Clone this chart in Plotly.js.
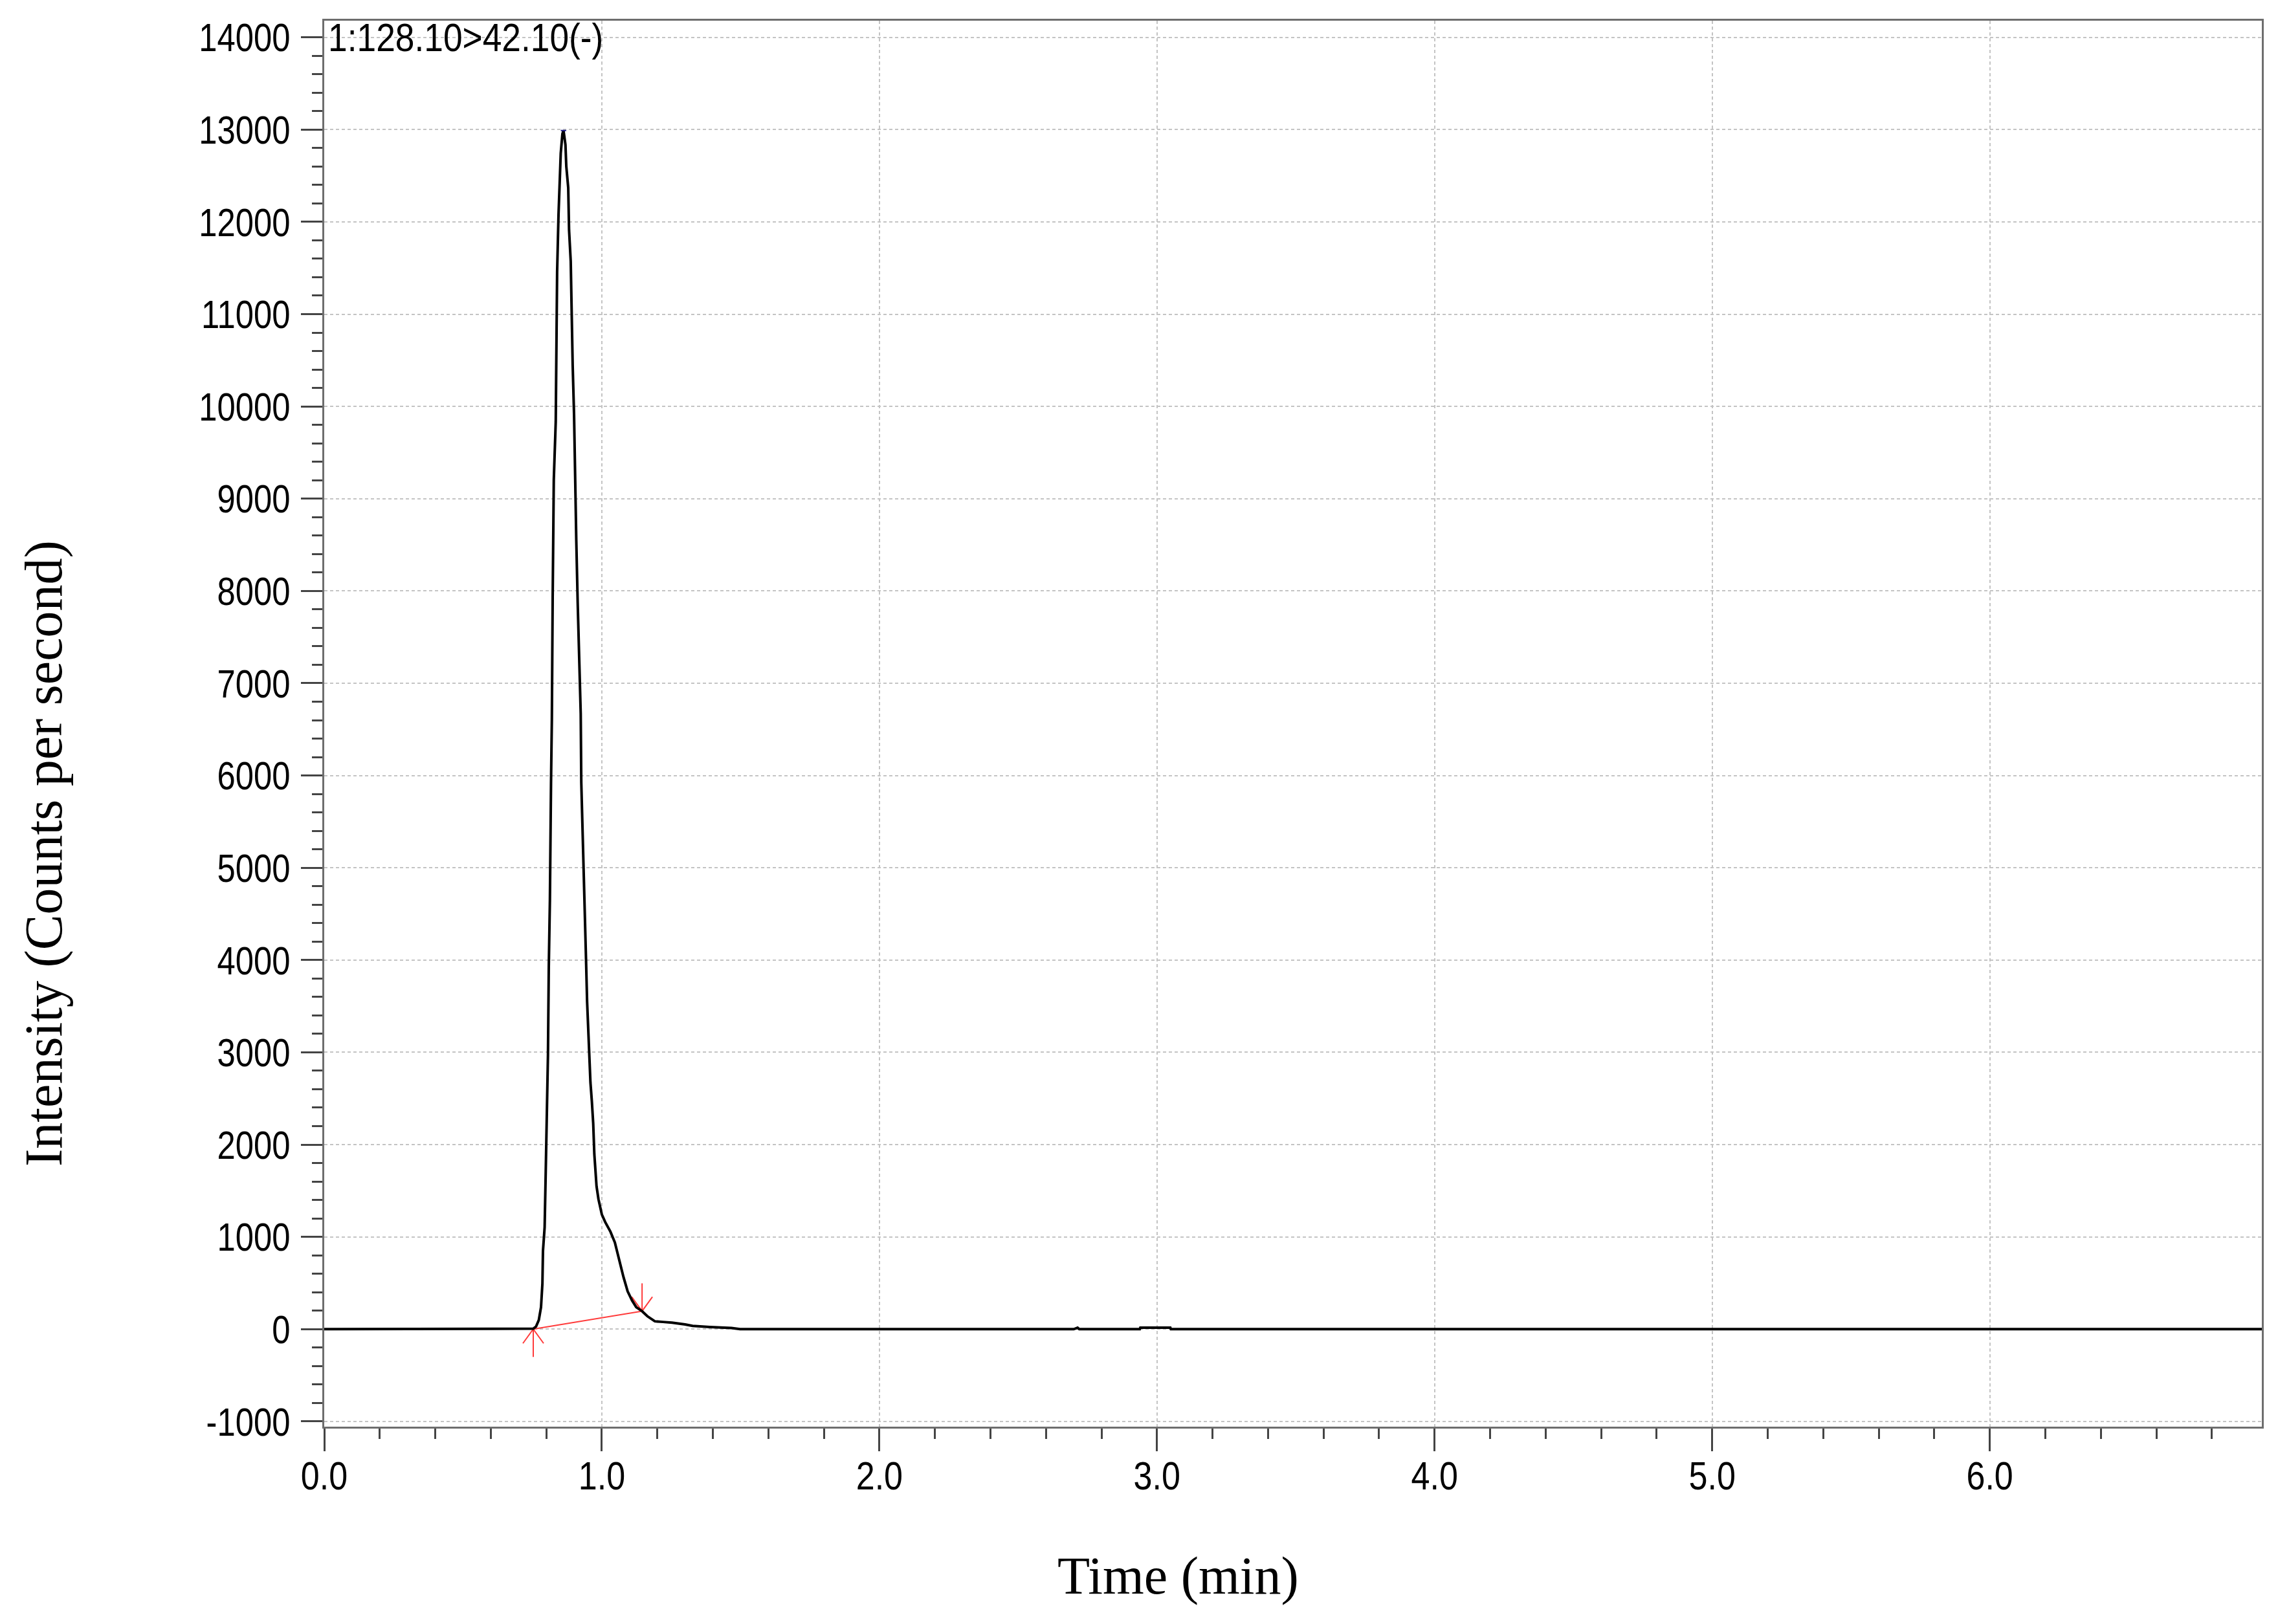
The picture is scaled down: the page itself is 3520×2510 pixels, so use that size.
<!DOCTYPE html>
<html>
<head>
<meta charset="utf-8">
<script src="https://cdn.plot.ly/plotly-3.0.1.min.js"></script>
<style>
  html, body { margin: 0; padding: 0; background: #ffffff; }
  #chart { width: 3520px; height: 2510px; }
</style>
</head>
<body>
<div id="chart"></div>
<script>
// ---- data ----
const timeMin = [
  0.000, 0.500, 0.740, 0.753, 0.763, 0.773, 0.781, 0.786, 0.788, 0.794,
  0.798, 0.802, 0.806, 0.809, 0.813, 0.817, 0.820, 0.823, 0.827, 0.834,
  0.837, 0.839, 0.844, 0.850, 0.852, 0.858, 0.862,
  0.869, 0.872, 0.879, 0.882, 0.888, 0.891, 0.895, 0.900, 0.904, 0.908,
  0.913, 0.919, 0.924, 0.926, 0.930, 0.934, 0.939, 0.943, 0.947, 0.951,
  0.955, 0.959, 0.964, 0.969, 0.973, 0.981, 0.988, 1.000, 1.012, 1.031,
  1.047, 1.062, 1.078, 1.093, 1.109, 1.124, 1.145, 1.164, 1.191, 1.220,
  1.253, 1.300, 1.327, 1.389, 1.467, 1.498, 2.700, 2.714, 2.720, 2.938,
  2.940, 3.048, 3.050, 6.980
];
const intensityCps = [
  0, 0, 0, 5, 28, 98, 238, 495, 846, 1103,
  1710, 2300, 2973, 3934, 4651, 5914, 6600, 7942, 9205, 9835,
  10872, 11457, 12077, 12520, 12743, 12953, 12990,
  12836, 12602, 12368, 11912, 11573, 11000, 10450, 9909, 9128, 8550,
  7880, 7170, 6670, 5927, 5524, 4892, 4450, 4020, 3548, 3266,
  2930, 2675, 2473, 2230, 1897, 1547, 1407, 1243, 1161, 1056,
  939, 752, 565, 410, 310, 238, 195, 140, 85, 78,
  70, 51, 35, 23, 12, 0, 0, 15, 0, 0,
  16, 16, 0, 0
];
// integration baseline (start and end of the integrated peak)
const peakStart = [0.753, 0];
const peakEnd = [1.145, 195];
const peakApex = [0.862, 12990];

const transitionLabel = '1:128.10>42.10(-)';
const xTitle = 'Time (min)';
const yTitle = 'Intensity (Counts per second)';

const xTickVals = [0, 1, 2, 3, 4, 5, 6];
const xTickLabels = ['0.0', '1.0', '2.0', '3.0', '4.0', '5.0', '6.0'];
const yTickVals = [-1000, 0, 1000, 2000, 3000, 4000, 5000, 6000, 7000, 8000, 9000, 10000, 11000, 12000, 13000, 14000];
const yTickLabels = ['-1000', '0', '1000', '2000', '3000', '4000', '5000', '6000', '7000', '8000', '9000', '10000', '11000', '12000', '13000', '14000'];

// ---- layout geometry ----
const W = 3520, H = 2510;
const M = { l: 501, r: 25, t: 32, b: 305 };
const xRange = [0, 6.98];
const yRange = [-1057, 14180];
const plotW = W - M.l - M.r, plotH = H - M.t - M.b;
const pxPerMin = plotW / (xRange[1] - xRange[0]);
const pxPerCps = plotH / (yRange[1] - yRange[0]);

// arrow marks built from the baseline points (sizes in px)
function arrowMark(pt, dir) {
  const stem = 43, armDy = 22, armDx = 16;
  const dxA = armDx / pxPerMin, dyA = dir * armDy / pxPerCps, dyS = dir * stem / pxPerCps;
  return {
    x: [pt[0], pt[0], null, pt[0] - dxA, pt[0], pt[0] + dxA],
    y: [pt[1] + dyS, pt[1], null, pt[1] + dyA, pt[1], pt[1] + dyA]
  };
}
const startArrow = arrowMark(peakStart, -1);
const endArrow = arrowMark(peakEnd, 1);

const sans = '"Liberation Sans", Arial, sans-serif';
const serif = '"Liberation Serif", "Times New Roman", serif';
const red = '#ff3b3b';

const traces = [
  {
    x: [peakStart[0], peakEnd[0]], y: [peakStart[1], peakEnd[1]],
    mode: 'lines', line: { color: red, width: 2 }, hoverinfo: 'skip', showlegend: false
  },
  {
    x: startArrow.x, y: startArrow.y, mode: 'lines',
    line: { color: red, width: 2 }, hoverinfo: 'skip', showlegend: false
  },
  {
    x: endArrow.x, y: endArrow.y, mode: 'lines',
    line: { color: red, width: 2 }, hoverinfo: 'skip', showlegend: false
  },
  {
    x: timeMin, y: intensityCps, mode: 'lines',
    line: { color: '#000000', width: 4, shape: 'linear' }, showlegend: false
  },
  {
    x: [peakApex[0]], y: [peakApex[1]], mode: 'markers',
    marker: { symbol: 'line-ew', size: 6, line: { color: '#1a1a8c', width: 2 } },
    hoverinfo: 'skip', showlegend: false
  }
];

const axisCommon = {
  showline: true, mirror: true, linecolor: '#6e6e6e', linewidth: 3,
  showgrid: true, gridcolor: '#c4c4c4', gridwidth: 2, griddash: '5px,4px',
  zeroline: false, ticks: 'outside', tickcolor: '#444444', tickwidth: 3,
  tickmode: 'array', tickfont: { family: sans, size: 62, color: '#000000' }
};

const layout = {
  width: W, height: H, autosize: false,
  margin: M,
  paper_bgcolor: '#ffffff', plot_bgcolor: '#ffffff',
  showlegend: false,
  xaxis: Object.assign({}, axisCommon, {
    range: xRange, tickvals: xTickVals, ticktext: xTickLabels,
    ticklen: 35, ticklabelstandoff: -15,
    minor: { tickmode: 'linear', tick0: 0, dtick: 0.2, ticks: 'outside', ticklen: 16,
             tickcolor: '#444444', tickwidth: 3, showgrid: false }
  }),
  yaxis: Object.assign({}, axisCommon, {
    range: yRange, tickvals: yTickVals, ticktext: yTickLabels,
    ticklen: 33, ticklabelstandoff: 4,
    minor: { tickmode: 'linear', tick0: 0, dtick: 200, ticks: 'outside', ticklen: 16,
             tickcolor: '#444444', tickwidth: 3, showgrid: false }
  }),
  annotations: [
    {
      text: transitionLabel, xref: 'paper', yref: 'y', x: 0, y: 14000,
      xanchor: 'left', yanchor: 'middle', xshift: 4, showarrow: false,
      font: { family: sans, size: 62, color: '#000000' }
    },
    {
      text: xTitle, xref: 'paper', yref: 'paper', x: (1820 - M.l) / plotW, y: -(2435 - (H - M.b)) / plotH,
      xanchor: 'center', yanchor: 'middle', showarrow: false,
      font: { family: serif, size: 82, color: '#000000' }
    },
    {
      text: yTitle, xref: 'paper', yref: 'paper', x: (67 - M.l) / plotW, y: ((H - M.b) - 1319) / plotH,
      xanchor: 'center', yanchor: 'middle', textangle: -90, showarrow: false,
      font: { family: serif, size: 82, color: '#000000' }
    }
  ]
};

// the original uses a narrow sans face; condense the sans labels horizontally
function condense(sel, scale, anchor) {
  document.querySelectorAll(sel).forEach(function (t) {
    const bb = t.getBBox();
    const ax = anchor === 'right' ? bb.x + bb.width : anchor === 'left' ? bb.x : bb.x + bb.width / 2;
    const prev = t.getAttribute('transform') || '';
    t.setAttribute('transform', prev + ' translate(' + ax + ',0) scale(' + scale + ',1) translate(' + (-ax) + ',0)');
  });
}

Plotly.newPlot('chart', traces, layout, { staticPlot: true, displayModeBar: false }).then(function () {
  condense('#chart .ytick text', 0.82, 'right');
  condense('#chart .xtick text', 0.84, 'center');
  const ann = document.querySelectorAll('#chart .annotation-text');
  if (ann.length) {
    const t = ann[0];
    const bb = t.getBBox();
    const prev = t.getAttribute('transform') || '';
    t.setAttribute('transform', prev + ' translate(' + bb.x + ',0) scale(0.86,1) translate(' + (-bb.x) + ',0)');
  }
});
</script>
</body>
</html>
